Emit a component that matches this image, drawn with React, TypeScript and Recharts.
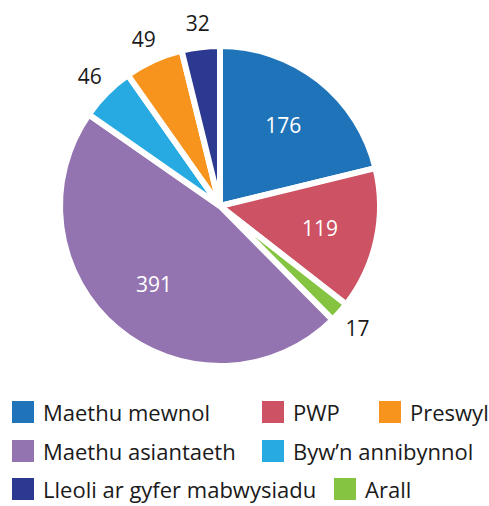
import React from "react";
import { PieChart, Pie, Cell, Legend } from "recharts";

const categories = [
  "Maethu mewnol",
  "PWP",
  "Arall",
  "Maethu asiantaeth",
  "Byw\u2019n annibynnol",
  "Preswyl",
  "Lleoli ar gyfer mabwysiadu",
];
const values = [176, 119, 17, 391, 46, 49, 32];
const colors = ["#1f73b8", "#cd5263", "#84c441", "#9474b0", "#27a9e1", "#f7941d", "#2b3990"];
const legendOrder = [
  "Maethu mewnol",
  "PWP",
  "Preswyl",
  "Maethu asiantaeth",
  "Byw\u2019n annibynnol",
  "Lleoli ar gyfer mabwysiadu",
  "Arall",
];

const data = categories.map((name, i) => ({ name, value: values[i] }));

const FONT = "'Open Sans', 'Noto Sans', sans-serif";
const RAD = Math.PI / 180;

const renderLabel = (props: any) => {
  const { cx, cy, midAngle, outerRadius, value } = props;
  const inside = value > 100;
  const r = inside ? outerRadius * 0.64 : outerRadius + 24;
  const x = cx + r * Math.cos(-midAngle * RAD);
  const y = cy + r * Math.sin(-midAngle * RAD);
  return (
    <text
      x={x}
      y={y}
      fill={inside ? "#ffffff" : "#1a1a1a"}
      fontSize={21}
      fontFamily={FONT}
      textAnchor="middle"
      dominantBaseline="central"
    >
      {value}
    </text>
  );
};

const legendPos: Record<string, { x: number; y: number }> = {
  "Maethu mewnol": { x: 12, y: 412 },
  PWP: { x: 262, y: 412 },
  Preswyl: { x: 379, y: 412 },
  "Maethu asiantaeth": { x: 12, y: 451 },
  "Byw\u2019n annibynnol": { x: 262, y: 451 },
  "Lleoli ar gyfer mabwysiadu": { x: 12, y: 489 },
  Arall: { x: 334, y: 489 },
};

const renderLegend = () => (
  <div style={{ position: "absolute", left: 0, top: 0, width: 489, height: 506 }}>
    {legendOrder.map((name) => {
      const i = categories.indexOf(name);
      const p = legendPos[name];
      return (
        <div
          key={name}
          style={{
            position: "absolute",
            left: p.x,
            top: p.y - 15,
            height: 30,
            display: "flex",
            alignItems: "center",
            whiteSpace: "nowrap",
          }}
        >
          <span style={{ width: 22, height: 22, background: colors[i], display: "inline-block", marginRight: 9 }} />
          <span style={{ fontFamily: FONT, fontSize: 22, color: "#1a1a1a", lineHeight: "30px" }}>{name}</span>
        </div>
      );
    })}
  </div>
);

export default function App() {
  return (
    <div style={{ position: "absolute", left: 0, top: 0, width: 489, height: 506, background: "#fff" }}>
      <PieChart width={489} height={506} margin={{ top: 0, right: 0, bottom: 0, left: 0 }}>
        <Pie
          data={data}
          dataKey="value"
          nameKey="name"
          cx={220}
          cy={206}
          outerRadius={160}
          startAngle={90}
          endAngle={-270}
          stroke="#ffffff"
          strokeWidth={6}
          label={renderLabel}
          labelLine={false}
          isAnimationActive={false}
        >
          {data.map((d, i) => (
            <Cell key={d.name} fill={colors[i]} />
          ))}
        </Pie>
        <Legend
          content={renderLegend}
          wrapperStyle={{ position: "absolute", left: 0, top: 0, width: 489, height: 506 }}
        />
      </PieChart>
    </div>
  );
}
